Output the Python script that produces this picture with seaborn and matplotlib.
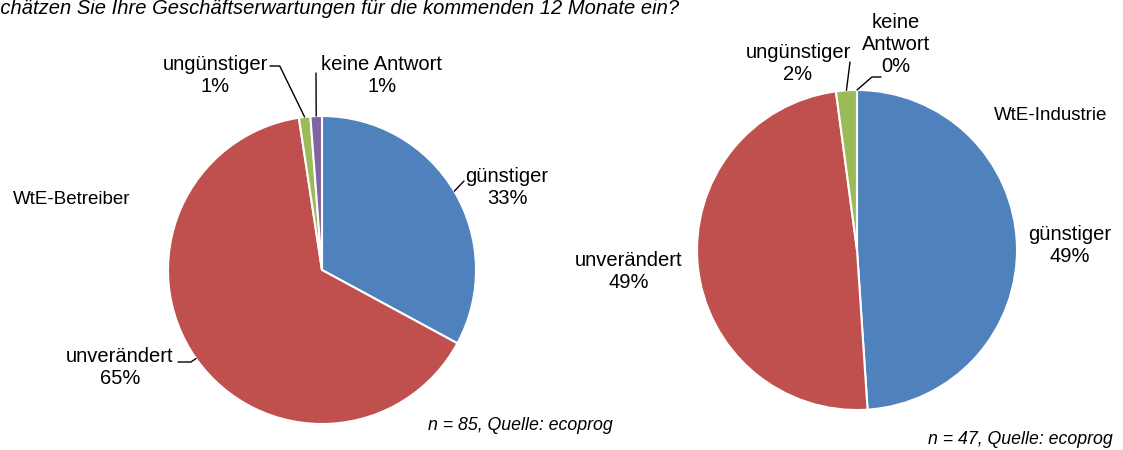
import numpy as np
import matplotlib
matplotlib.use("Agg")
import matplotlib.pyplot as plt
import seaborn as sns

# data
categories = ["günstiger", "unverändert", "ungünstiger", "keine Antwort"]
betreiber = [32.9, 64.7, 1.2, 1.2]      # n = 85
industrie = [48.9, 48.9, 2.1, 0.0]      # n = 47
colors = ["#4F81BD", "#C0504D", "#9BBB59", "#8064A2"]

sns.set_theme(style="white")
plt.rcParams["font.family"] = ["Liberation Sans", "DejaVu Sans"]
plt.rcParams["text.color"] = "black"

W, H = 1123, 450
fig = plt.figure(figsize=(W / 100, H / 100), dpi=100)


def fx(x, y):
    return (x / W, 1 - y / H)


def draw_pie(values, cx, cy, r):
    pad = 1.1
    ax = fig.add_axes([(cx - r * pad) / W, 1 - (cy + r * pad) / H, 2 * r * pad / W, 2 * r * pad / H])
    wedges, _ = ax.pie(values, colors=colors, startangle=90, counterclock=False,
                       wedgeprops=dict(edgecolor="white", linewidth=1.5))
    ax.set_xlim(-pad, pad)
    ax.set_ylim(-pad, pad)
    ax.axis("off")
    return ax, wedges


def label(ax, wedge, text, pos, line=None, conn="arc3"):
    fig.text(*fx(*pos), text, ha="center", va="center", fontsize=14.5, linespacing=1.2)
    if line is not None:
        mid = np.deg2rad((wedge.theta1 + wedge.theta2) / 2)
        ax.annotate("", xy=(np.cos(mid), np.sin(mid)), xycoords="data",
                    xytext=fx(*line), textcoords="figure fraction",
                    arrowprops=dict(arrowstyle="-", color="black", lw=1,
                                    shrinkA=0, shrinkB=0, connectionstyle=conn))


# left pie: WtE-Betreiber
ax1, w1 = draw_pie(betreiber, 322, 270, 154)
pct1 = [f"{v:.0f}%" for v in betreiber]
label(ax1, w1[0], f"{categories[0]}\n{pct1[0]}", (507, 187), (464, 181))
label(ax1, w1[1], f"{categories[1]}\n{pct1[1]}", (120, 368), (178, 362), "angle,angleA=0,angleB=214,rad=0")
label(ax1, w1[2], f"{categories[2]}\n{pct1[2]}", (215, 75), (270, 66), "angle,angleA=0,angleB=116,rad=0")
label(ax1, w1[3], f"{categories[3]}\n{pct1[3]}", (382, 75), (316, 73))
fig.text(*fx(72, 200), "WtE-Betreiber", ha="center", va="center", fontsize=13.5)
fig.text(*fx(520, 425), "n = 85, Quelle: ecoprog", ha="center", va="center", fontsize=12.8, style="italic")

# right pie: WtE-Industrie
ax2, w2 = draw_pie(industrie, 857, 250, 160)
pct2 = [f"{v:.0f}%" for v in industrie]
label(ax2, w2[0], f"{categories[0]}\n{pct2[0]}", (1070, 246))
label(ax2, w2[1], f"{categories[1]}\n{pct2[1]}", (629, 271))
label(ax2, w2[2], f"{categories[2]}\n{pct2[2]}", (798, 64), (850, 62))
label(ax2, w2[3], "keine\nAntwort\n" + pct2[3], (896, 44), (881, 77), "angle,angleA=0,angleB=41,rad=0")
fig.text(*fx(1051, 116), "WtE-Industrie", ha="center", va="center", fontsize=13.5)
fig.text(*fx(1020, 440), "n = 47, Quelle: ecoprog", ha="center", va="center", fontsize=12.8, style="italic")

# title, cut off at the top/left like the source
fig.text(*fx(-13, 14), "Schätzen Sie Ihre Geschäftserwartungen für die kommenden 12 Monate ein?",
         ha="left", va="baseline", fontsize=14.5, style="italic")

fig.savefig("out.png", dpi=100)
